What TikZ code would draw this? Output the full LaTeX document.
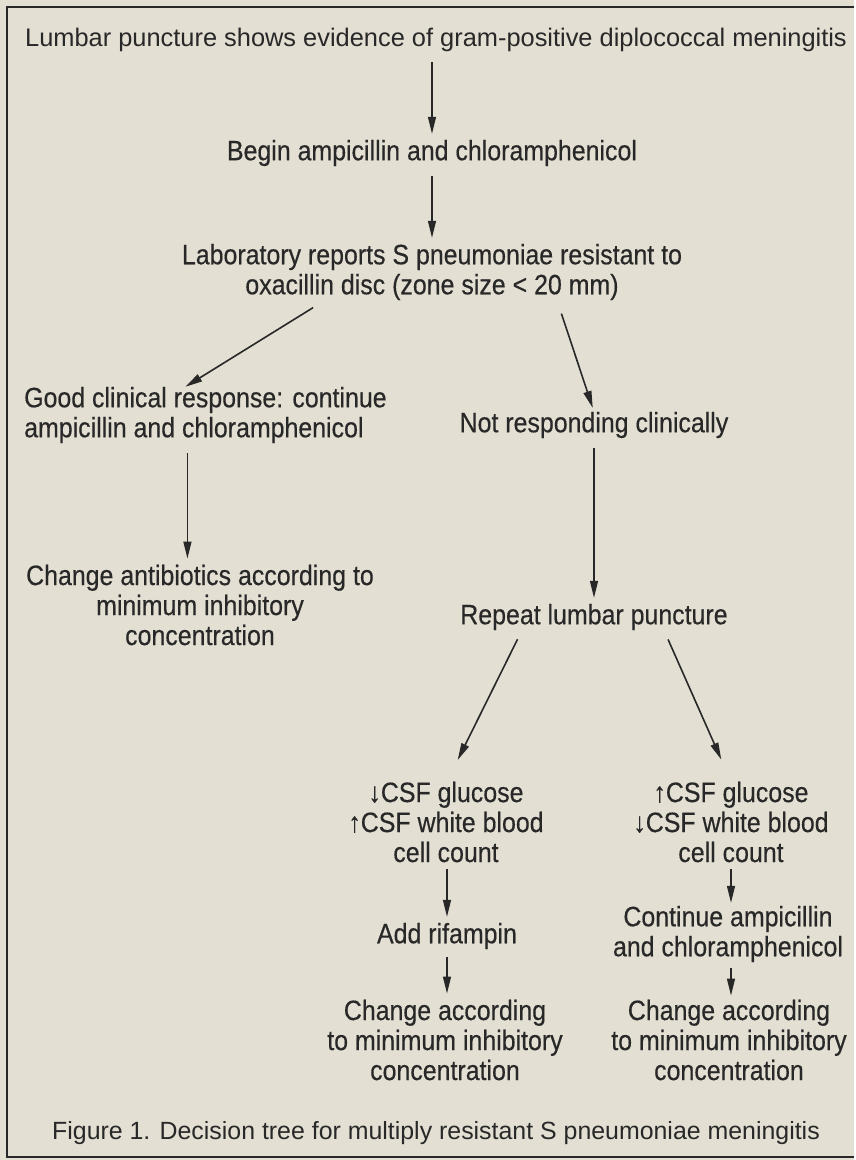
\documentclass[tikz,border=0pt]{standalone}
\usepackage{fontspec}
\setmainfont[FakeStretch=0.89,FakeBold=0.4]{Liberation Sans}
\newfontfamily\plainfont{Liberation Sans}
\usetikzlibrary{arrows.meta}
\definecolor{paper}{RGB}{227,223,211}
\definecolor{ink}{RGB}{40,40,40}

\begin{document}
\begin{tikzpicture}[x=1bp,y=-1bp,
  every node/.style={inner sep=0pt,text=ink,align=center,font=\fontsize{28bp}{30bp}\selectfont},
  plain/.style={font=\plainfont\fontsize{24.9bp}{30bp}\selectfont},
  arr/.style={draw=ink,line width=1.6bp,-{Triangle[length=17bp,width=8bp]},shorten <=10bp,shorten >=6bp}]
\fill[paper] (0,0) rectangle (854,1160);
\draw[ink,line width=2.8bp] (854,7) -- (7,7) -- (7,1157) -- (854,1157);
% boxes of the tree
\node[plain,font=\plainfont\fontsize{25.4bp}{30bp}\selectfont] (lumbar) at (436,40) {Lumbar puncture shows evidence of gram-positive diplococcal meningitis};
\node (begin) at (432,153) {Begin ampicillin and chloramphenicol};
\node (lab) at (432,272) {Laboratory reports S pneumoniae resistant to\\oxacillin disc (zone size < 20 mm)};
\node[anchor=west,align=left] (good) at (24,415) {Good clinical response: continue\\ampicillin and chloramphenicol};
\node (notresp) at (594,425) {Not responding clinically};
\node (chgab) at (200,605) {Change antibiotics according to\\minimum inhibitory\\concentration};
\node (repeat) at (594,617) {Repeat lumbar puncture};
\node (csfl) at (446,822) {↓CSF glucose\\↑CSF white blood\\cell count};
\node (csfr) at (731,822) {↑CSF glucose\\↓CSF white blood\\cell count};
\node (rif) at (447,936) {Add rifampin};
\node (cont) at (728,934) {Continue ampicillin\\and chloramphenicol};
\node (chgl) at (445,1040) {Change according\\to minimum inhibitory\\concentration};
\node (chgr) at (729,1040) {Change according\\to minimum inhibitory\\concentration};
\node[plain] (caption) at (436,1133) {Figure 1. Decision tree for multiply resistant S pneumoniae meningitis};
% arrows
\draw[arr] (lumbar.south -| begin.north) -- (begin.north);
\draw[arr] (begin.south) -- (begin.south |- lab.north);
\draw[arr,shorten <=14bp,shorten >=0bp] ([xshift=-107bp]lab.south) -- ([xshift=-20bp]good.north);
\draw[arr,shorten <=14bp,shorten >=4bp] ([xshift=125bp]lab.south) -- (notresp.north);
\draw[arr] ([xshift=-18bp]good.south) -- ([xshift=-18bp]good.south |- chgab.north);
\draw[arr] (notresp) -- (repeat);
\draw[arr,shorten >=24bp] ([xshift=-72bp]repeat.south) -- (rif.north |- csfl.north);
\draw[arr,shorten >=24bp] ([xshift=70bp]repeat.south) -- (csfr.north);
\draw[arr,shorten <=7bp] (csfl.south -| rif.north) -- (rif.north);
\draw[arr,shorten <=8bp] (rif.south) -- (rif.south |- chgl.north);
\draw[arr,shorten <=7bp,shorten >=3bp] (csfr.south) -- (csfr.south |- cont.north);
\draw[arr,shorten <=6bp,shorten >=4bp] (csfr.south |- cont.south) -- (csfr.south |- chgr.north);
\end{tikzpicture}
\end{document}
